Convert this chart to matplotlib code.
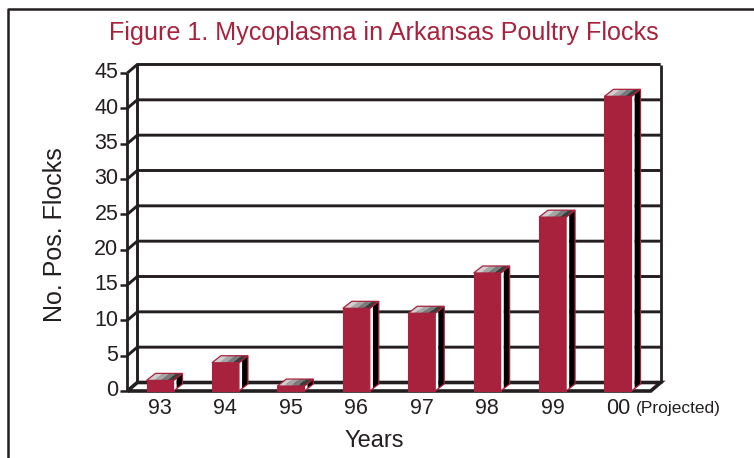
import matplotlib
matplotlib.use("Agg")
from matplotlib import pyplot as plt
from matplotlib.patches import Polygon
from matplotlib.lines import Line2D

plt.rcParams['font.family'] = ['Liberation Sans', 'DejaVu Sans']

years = ['93', '94', '95', '96', '97', '98', '99', '00']
flocks = [1.5, 4.0, 0.7, 11.7, 11.0, 16.7, 24.6, 41.7]
y_ticks = [0, 5, 10, 15, 20, 25, 30, 35, 40, 45]

title = "Figure 1. Mycoplasma in Arkansas Poultry Flocks"
crimson = "#a8213d"
ink = "#231f20"

W, H = 754, 458
fig = plt.figure(figsize=(W / 100, H / 100), dpi=100)
fig.patch.set_facecolor("white")

# front plane of the "3d" box, in pixels
x0_px, x1_px = 127.3, 650.7
y0_px, y1_px = 391, 73
ax = fig.add_axes([x0_px / W, 1 - y0_px / H, (x1_px - x0_px) / W, (y0_px - y1_px) / H])
ax.set_xlim(-0.5, len(years) - 0.5)
ax.set_ylim(0, 45)
ax.axis("off")

px_x = len(years) / (x1_px - x0_px)   # category units per pixel
px_y = 45 / (y0_px - y1_px)           # value units per pixel

dx, dy = 10 * px_x, 8.5 * px_y        # wall depth
bdx, bdy = 9 * px_x, 7 * px_y         # bar depth
bw = 27 * px_x
xl, xr = -0.5, len(years) - 0.5

def line(xs, ys, lw=2.1, z=1):
    ax.add_line(Line2D(xs, ys, color=ink, lw=lw, clip_on=False, zorder=z,
                       solid_capstyle="butt", solid_joinstyle="miter"))

# back wall, gridlines and ticks
for v in y_ticks:
    if v > 0:
        line([xl, xl + dx, xr + dx], [v, v + dy, v + dy])
    line([xl - 7 * px_x, xl], [v, v], lw=1.8)
    ax.text(xl - 9 * px_x, v, str(v), ha="right", va="center", fontsize=15.5,
            color=ink, clip_on=False)
line([xl + dx, xl + dx], [dy, 45 + dy])
line([xr + dx, xr + dx], [dy, 45 + dy], lw=2.0)
line([xl, xl], [0, 45], lw=2.0)
# floor
line([xl, xl + dx, xr + dx, xr, xl], [0, dy, dy, 0, 0], lw=2.6, z=2)

# bars
top_cols = ["#cfcfcf", "#a6a6a6", "#7a7a7a", "#3c3c3c"]
for i, v in enumerate(flocks):
    a, b = i - bw / 2, i + bw / 2
    ax.add_patch(Polygon([(a, 0), (b, 0), (b, v), (a, v)], closed=True,
                         facecolor=crimson, edgecolor=crimson, lw=0.8,
                         clip_on=False, zorder=3))
    # side face: white strip then black
    f = 0.35
    ax.add_patch(Polygon([(b, 0), (b + f * bdx, f * bdy), (b + f * bdx, v + f * bdy), (b, v)],
                         closed=True, facecolor="white", edgecolor="none",
                         clip_on=False, zorder=3))
    ax.add_patch(Polygon([(b + f * bdx, f * bdy), (b + bdx, bdy), (b + bdx, v + bdy), (b + f * bdx, v + f * bdy)],
                         closed=True, facecolor="black", edgecolor="none",
                         clip_on=False, zorder=3))
    ax.add_patch(Polygon([(b, 0), (b + bdx, bdy), (b + bdx, v + bdy), (b, v)],
                         closed=True, facecolor="none", edgecolor=crimson, lw=0.9,
                         clip_on=False, zorder=4))
    # top face with stepped grey shading
    n = len(top_cols)
    for k, c in enumerate(top_cols):
        s0, s1 = a + (b - a) * k / n, a + (b - a) * (k + 1) / n
        ax.add_patch(Polygon([(s0, v), (s1, v), (s1 + bdx, v + bdy), (s0 + bdx, v + bdy)],
                             closed=True, facecolor=c, edgecolor="none",
                             clip_on=False, zorder=3))
    ax.add_patch(Polygon([(a, v), (b, v), (b + bdx, v + bdy), (a + bdx, v + bdy)],
                         closed=True, facecolor="none", edgecolor=crimson, lw=0.9,
                         clip_on=False, zorder=4))
    ax.text(i, -18 * px_y, years[i], ha="center", va="center", fontsize=15.5,
            color=ink, clip_on=False)

ax.text(len(years) - 1 + 18 * px_x, -18 * px_y, "(Projected)", ha="left", va="center",
        fontsize=12.5, color=ink, clip_on=False)

fig.text(374 / W, 1 - 441 / H, "Years", ha="center", va="center", fontsize=17, color=ink)
fig.text(55 / W, 1 - 235 / H, "No. Pos. Flocks", ha="center", va="center", fontsize=18,
         rotation=90, color=ink)
fig.text(384 / W, 1 - 33 / H, title, ha="center", va="center", fontsize=18.1, color=crimson)

# outer frame (runs off the right and bottom edges)
fig.add_artist(Line2D([8 / W, 8 / W, 1.0], [0.0, 1 - 9 / H, 1 - 9 / H], color=ink,
                      lw=1.8, transform=fig.transFigure))

fig.savefig("out.png", dpi=100)
